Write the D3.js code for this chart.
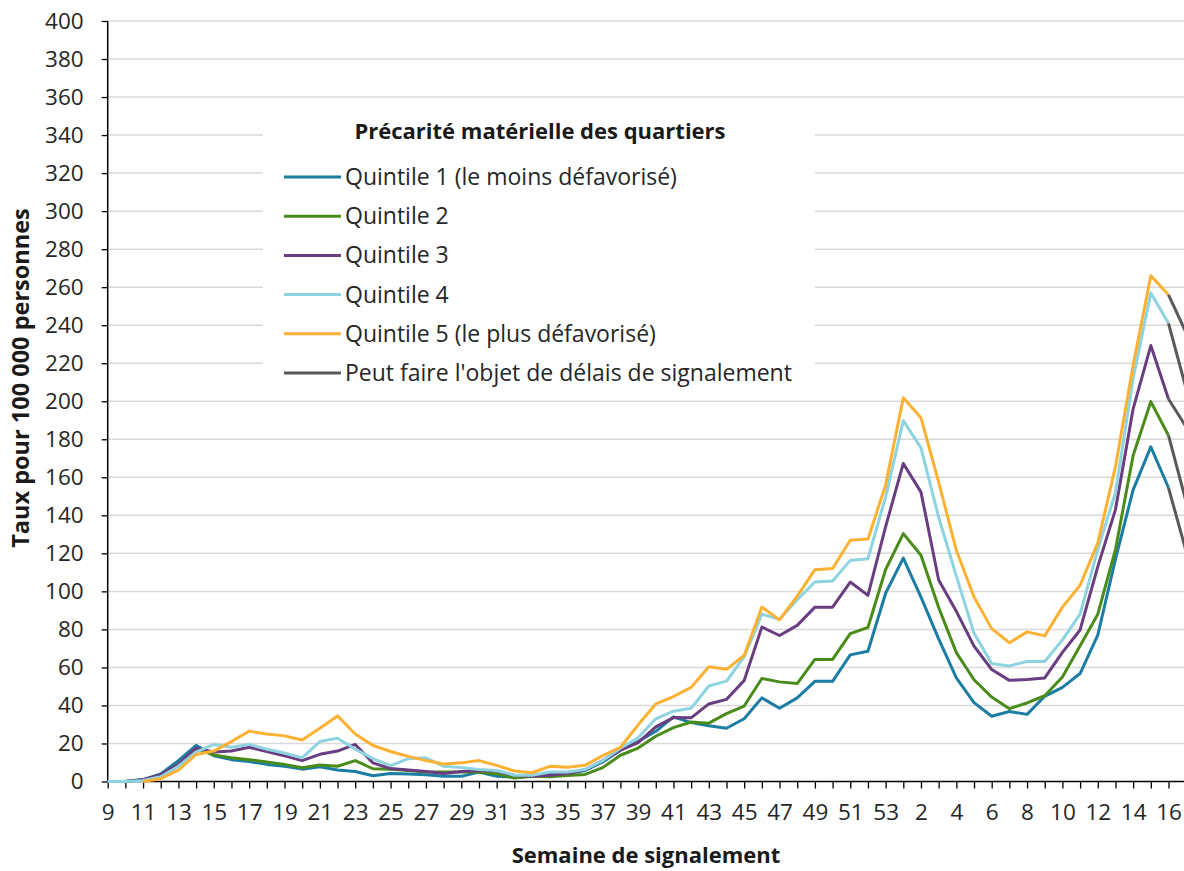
<!DOCTYPE html>
<html>
<head>
<meta charset="utf-8">
<script src="https://cdn.jsdelivr.net/npm/d3@7"></script>
<style>
  body { margin: 0; background: #fff; }
  svg { display: block; font-family: 'Open Sans', sans-serif; }
</style>
</head>
<body>
<svg id="chart" width="1184" height="871"></svg>
<script>
// semaines de signalement (2020: 9-53, 2021: 1-17)
const weeks = ["9","10","11","12","13","14","15","16","17","18","19","20","21","22","23","24","25","26","27","28","29","30",
  "31","32","33","34","35","36","37","38","39","40","41","42","43","44","45","46","47","48","49","50","51","52","53",
  "1","2","3","4","5","6","7","8","9","10","11","12","13","14","15","16","17"];

const q1 = [0,0,1,4,11,19,13.5,11.5,10.5,9,8,6.5,7.7,6,5.3,3,4.2,4,3.5,2.7,2.7,5,2.8,2.3,2.7,4,4,5.8,10.3,16.5,
  21,26.4,34,31,29.3,28,33,44,38.5,44,52.7,52.7,66.6,68.5,99,
  117.5,97,75,54.5,41.5,34.3,36.8,35.3,44.8,49.5,56.8,77,117,153.4,176,154.5,121];
const q2 = [0,0,0.8,3,9,17,14,12.5,11.5,10.3,9,7.2,8.7,8,11,6.7,6.5,5.8,5,5,5,5,4,1.8,2.7,2.5,3.2,3.7,7.3,13.8,
  17.6,23.8,28.3,31.3,30.7,35.7,39.7,54.2,52.4,51.5,64.2,64.2,77.8,81,111.5,
  130.4,119,91.5,67.8,53.5,44.4,38.3,41.3,45.1,55,71.4,88,122,171.5,199.8,182,147];
const q3 = [0,0,1,3.5,9,17.5,15.5,16,18,15.8,13.5,11,14.3,16,19.5,9.8,6.8,6,5.2,4.2,5.3,5.8,5.5,3.2,2.8,3.3,4.2,6.2,11,16.5,
  20.5,28.7,33.6,33.5,40.8,43.2,53.1,81.2,76.8,82.1,91.7,91.7,104.9,97.9,134,
  167.3,152.2,106,89.5,71.2,58.9,53.2,53.7,54.5,67.9,79.7,113,143,196,229.3,201.2,186.5];
const q4 = [0,0,0.5,2.5,8,15.5,19.5,18,19.5,17,15,12.5,21,22.8,17,12,8.3,12,12.5,8,7.3,6.3,5.8,3.3,3.3,5,5,6.3,11,17.5,
  23,33,37,38.5,50.2,52.8,65.5,88,85.3,95.6,104.9,105.5,116.3,117.2,149.7,
  189.8,175.5,139,108,78,62,60.8,63.1,63.1,74.5,88,122,152,212,257,241,206.5];
const q5 = [null,null,0,1.5,6,14.2,16,21,26.5,25,24,21.8,28,34.5,25,19,15.8,13.2,11,9.2,9.8,11,8.5,5.5,4.6,8,7.5,8.5,13.6,18,
  29.8,40.8,44.7,49.5,60.4,59,66.3,91.8,85,97.5,111.4,112,126.9,127.5,156,
  201.8,191.3,157.5,121.6,97,80.4,73,78.7,76.6,91.7,103.2,125.5,165.6,219,266,256,236];

const seriesNames = ["Quintile 1 (le moins défavorisé)", "Quintile 2", "Quintile 3", "Quintile 4", "Quintile 5 (le plus défavorisé)"];
const seriesColors = ["#1b7da4", "#4a8c1a", "#6a3d80", "#8dd3e0", "#fdb133"];
const delayName = "Peut faire l'objet de délais de signalement";
const delayColor = "#595959";
const delayFrom = 60; // les deux dernieres semaines
const legendTitle = "Précarité matérielle des quartiers";
const yTicks = d3.range(0, 401, 20);

const allSeries = [q1, q2, q3, q4, q5];

const svg = d3.select('#chart');
const x0 = 107.7, step = 17.68;

const x = d3.scalePoint()
  .domain(d3.range(weeks.length))
  .range([x0, x0 + step * (weeks.length - 1)]);

const y = d3.scaleLinear()
  .domain([0, 400])
  .range([781.5, 21]);

// grille
svg.append('g')
  .selectAll('line')
  .data(yTicks.filter(t => t > 0))
  .enter().append('line')
  .attr('x1', x0).attr('x2', 1184)
  .attr('y1', d => y(d)).attr('y2', d => y(d))
  .style('stroke', '#d9d9d9')
  .style('stroke-width', '1.5px');

// axes
const yAxis = d3.axisLeft(y).tickValues(yTicks).tickSize(6).tickPadding(18);
const xAxis = d3.axisBottom(x)
  .tickValues(d3.range(weeks.length))
  .tickFormat(i => i % 2 === 0 ? weeks[i] : '')
  .tickSize(7).tickPadding(16);

const gy = svg.append('g').attr('transform', `translate(${x0},0)`).call(yAxis);
const gx = svg.append('g').attr('transform', `translate(0,${y(0)})`).call(xAxis);

[gy, gx].forEach(g => {
  g.select('.domain').style('stroke', '#000').style('stroke-width', '1.5px');
  g.selectAll('.tick line').style('stroke', '#000').style('stroke-width', '1.3px');
  g.selectAll('.tick text')
    .style('font-size', '22.5px')
    .style('fill', '#262626')
    .style('font-family', "'Open Sans', sans-serif");
});
gx.select('.domain').attr('d', `M${x0},0H1184`);
gy.select('.domain').attr('d', `M0,${y(400)}V${y(0)}`);

// courbes
const line = d3.line()
  .defined(d => d[1] != null)
  .x(d => x(d[0]))
  .y(d => y(d[1]));

allSeries.forEach((vals, s) => {
  const pts = vals.map((v, i) => [i, v]).slice(0, delayFrom + 1);
  svg.append('path')
    .attr('d', line(pts))
    .style('fill', 'none')
    .style('stroke', seriesColors[s])
    .style('stroke-width', '3px')
    .style('stroke-linejoin', 'round');
});

allSeries.forEach(vals => {
  const pts = vals.map((v, i) => [i, v]).slice(delayFrom);
  svg.append('path')
    .attr('d', line(pts))
    .style('fill', 'none')
    .style('stroke', delayColor)
    .style('stroke-width', '3px')
    .style('stroke-linejoin', 'round');
});

// legende
const legend = svg.append('g');
legend.append('rect')
  .attr('x', 263).attr('y', 106)
  .attr('width', 552).attr('height', 288)
  .style('fill', '#fff');

legend.append('text')
  .attr('x', 540).attr('y', 139)
  .attr('text-anchor', 'middle')
  .style('font-size', '22px')
  .style('font-weight', 'bold')
  .style('fill', '#1a1a1a')
  .text(legendTitle);

const legendItems = seriesNames.map((n, i) => ({ name: n, color: seriesColors[i] }))
  .concat([{ name: delayName, color: delayColor }]);

const rows = legend.selectAll('g.row')
  .data(legendItems)
  .enter().append('g')
  .attr('class', 'row')
  .attr('transform', (d, i) => `translate(0,${177 + i * 39.2})`);

rows.append('line')
  .attr('x1', 284).attr('x2', 341)
  .style('stroke', d => d.color)
  .style('stroke-width', '3px');

rows.append('text')
  .attr('x', 345).attr('y', 8)
  .style('font-size', '23px')
  .style('fill', '#262626')
  .text(d => d.name);

// titres d'axes
svg.append('text')
  .attr('transform', 'translate(29,378) rotate(-90)')
  .attr('text-anchor', 'middle')
  .style('font-size', '23.5px')
  .style('font-weight', 'bold')
  .style('fill', '#1a1a1a')
  .text('Taux pour 100 000 personnes');

svg.append('text')
  .attr('x', 646).attr('y', 863)
  .attr('text-anchor', 'middle')
  .style('font-size', '22px')
  .style('font-weight', 'bold')
  .style('fill', '#1a1a1a')
  .text('Semaine de signalement');
</script>
</body>
</html>
